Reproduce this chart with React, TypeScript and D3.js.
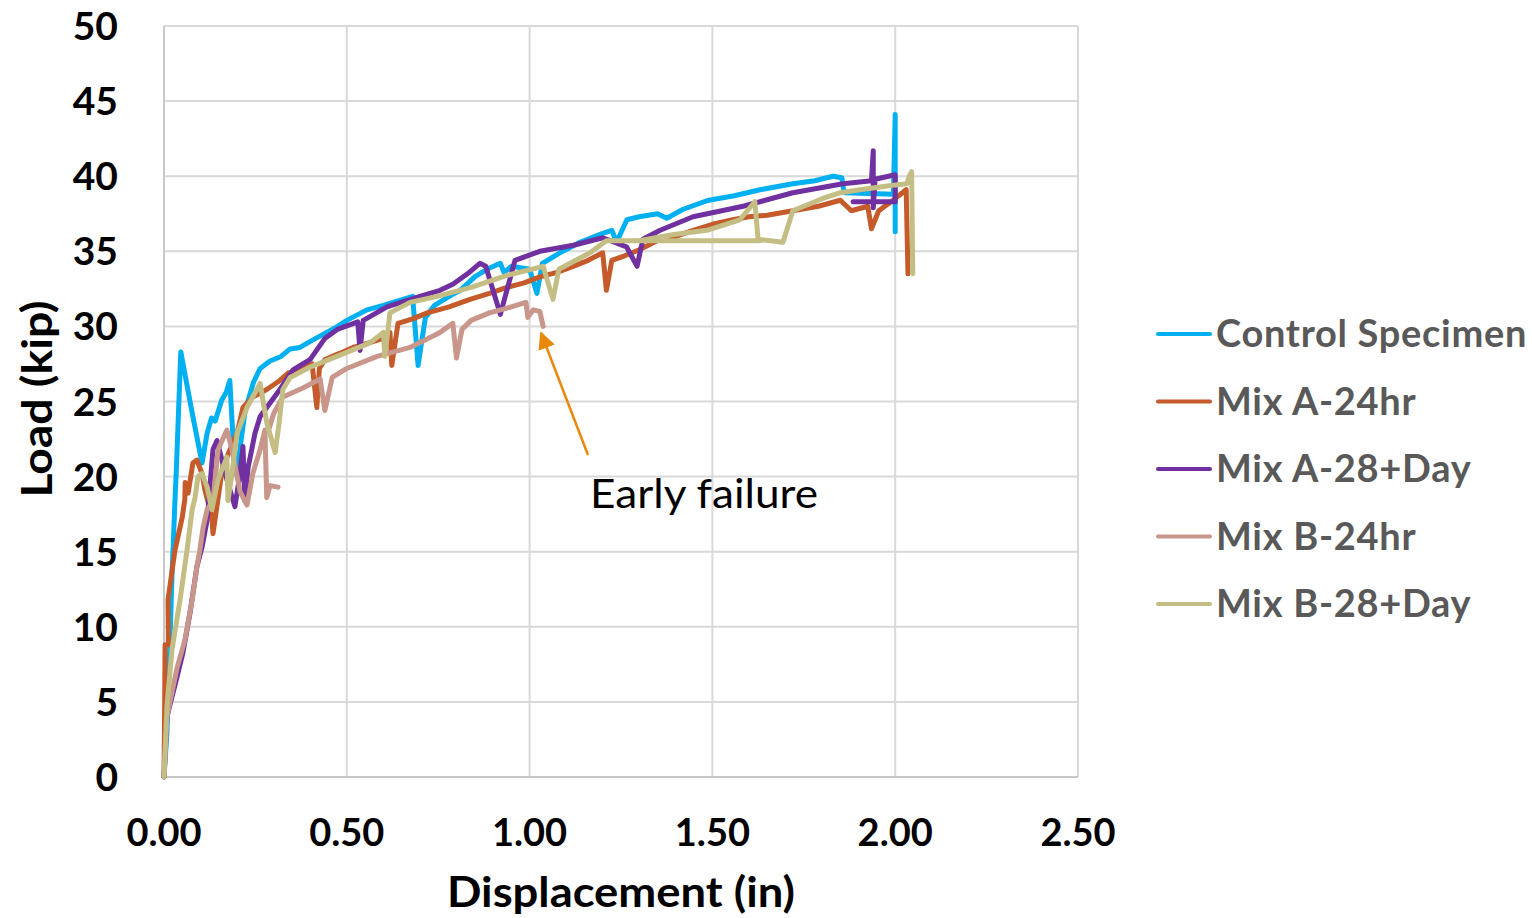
import { useEffect, useRef } from 'react'
import * as d3 from 'd3'

// displacement (in), load (kip)
const controlSpecimen: [number, number][] = [
  [0.000, 0.0], [0.008, 2.9], [0.015, 8.0], [0.022, 13.5], [0.030, 18.4], [0.034, 20.6],
  [0.040, 24.5], [0.046, 28.3], [0.075, 24.5], [0.104, 20.9], [0.118, 22.9], [0.130, 23.9],
  [0.140, 23.7], [0.158, 25.1], [0.170, 25.6], [0.180, 26.4], [0.194, 20.2], [0.203, 21.0],
  [0.222, 24.4], [0.245, 26.3], [0.263, 27.2], [0.290, 27.7], [0.320, 28.0], [0.345, 28.5],
  [0.372, 28.6], [0.400, 29.0], [0.445, 29.6], [0.475, 30.0], [0.500, 30.4], [0.555, 31.1],
  [0.600, 31.4], [0.640, 31.7], [0.680, 32.0], [0.695, 27.4], [0.715, 30.6], [0.740, 31.4],
  [0.780, 32.0], [0.810, 32.4], [0.850, 33.3], [0.883, 33.8], [0.920, 34.2], [0.930, 33.6],
  [0.950, 34.0], [1.000, 33.8], [1.020, 32.2], [1.035, 34.2], [1.083, 34.9], [1.138, 35.6],
  [1.200, 36.2], [1.225, 36.4], [1.238, 35.6], [1.266, 37.1], [1.300, 37.3], [1.350, 37.5],
  [1.375, 37.2], [1.420, 37.8], [1.490, 38.4], [1.560, 38.7], [1.630, 39.1], [1.720, 39.5],
  [1.780, 39.7], [1.830, 40.0], [1.854, 39.9], [1.860, 38.9], [1.995, 38.8], [2.000, 44.1],
  [2.000, 36.3],
]

const mixA24hr: [number, number][] = [
  [0.000, 0.0], [0.002, 5.5], [0.003, 8.8], [0.012, 8.8], [0.011, 11.8], [0.030, 15.1],
  [0.050, 17.3], [0.057, 18.5], [0.058, 19.6], [0.066, 18.9], [0.079, 20.9], [0.090, 21.1],
  [0.104, 20.2], [0.112, 19.1], [0.131, 17.3], [0.134, 16.2], [0.160, 20.6], [0.200, 22.9],
  [0.216, 24.6], [0.243, 25.3], [0.281, 25.8], [0.317, 26.4], [0.340, 26.9], [0.372, 27.1],
  [0.405, 27.5], [0.418, 24.6], [0.425, 27.2], [0.440, 27.8], [0.480, 28.2], [0.517, 28.6],
  [0.560, 28.9], [0.600, 29.2], [0.618, 29.6], [0.623, 27.4], [0.640, 30.2], [0.680, 30.5],
  [0.720, 30.9], [0.780, 31.3], [0.837, 31.8], [0.890, 32.2], [0.938, 32.6], [0.985, 32.9],
  [1.028, 33.3], [1.075, 33.6], [1.119, 34.0], [1.160, 34.4], [1.200, 34.9], [1.210, 32.4],
  [1.225, 34.4], [1.260, 34.7], [1.300, 35.1], [1.357, 35.8], [1.400, 36.0], [1.447, 36.4],
  [1.500, 36.8], [1.556, 37.1], [1.600, 37.3], [1.650, 37.4], [1.720, 37.7], [1.790, 38.0],
  [1.850, 38.4], [1.880, 37.7], [1.925, 38.0], [1.935, 36.5], [1.955, 37.7], [1.994, 38.4],
  [2.030, 39.1], [2.035, 33.5],
]

const mixA28Day: [number, number][] = [
  [0.000, 0.0], [0.008, 4.0], [0.036, 6.7], [0.052, 8.3], [0.071, 10.9], [0.090, 14.0],
  [0.104, 15.3], [0.118, 17.1], [0.134, 21.8], [0.145, 22.4], [0.172, 19.8], [0.194, 18.0],
  [0.208, 20.2], [0.216, 22.0], [0.221, 18.4], [0.230, 20.6], [0.249, 22.9], [0.263, 24.0],
  [0.290, 24.9], [0.317, 25.8], [0.353, 27.1], [0.400, 27.8], [0.440, 29.2], [0.474, 29.8],
  [0.530, 30.3], [0.536, 28.4], [0.545, 30.4], [0.610, 31.3], [0.700, 32.0], [0.755, 32.4],
  [0.790, 32.8], [0.830, 33.5], [0.864, 34.2], [0.880, 34.0], [0.920, 30.8], [0.960, 34.4],
  [1.028, 35.0], [1.120, 35.4], [1.200, 35.9], [1.265, 35.3], [1.294, 34.0], [1.310, 35.8],
  [1.357, 36.4], [1.447, 37.3], [1.584, 38.0], [1.720, 38.9], [1.857, 39.5], [1.935, 39.7],
  [1.940, 41.7], [1.940, 37.9], [1.945, 39.8], [2.000, 40.1], [2.000, 38.3], [1.885, 38.3],
]

// NaN marks a break in the trace
const mixB24hr: [number, number][] = [
  [0.000, 0.0], [0.008, 4.0], [0.036, 7.3], [0.057, 9.1], [0.077, 11.8], [0.090, 14.0],
  [0.098, 15.1], [0.107, 16.6], [0.118, 17.8], [0.134, 18.4], [0.148, 21.8], [0.172, 23.1],
  [0.186, 21.8], [0.208, 19.0], [0.227, 18.1], [0.243, 20.2], [0.263, 21.8], [0.276, 23.1],
  [0.281, 18.6], [0.290, 19.4], [0.312, 19.3], [NaN, NaN],
  [0.285, 23.0], [0.300, 24.2], [0.325, 25.3], [0.380, 25.9], [0.427, 26.5], [0.440, 24.4],
  [0.460, 26.6], [0.500, 27.2], [0.583, 28.0], [0.673, 28.6], [0.755, 29.6], [0.790, 30.2],
  [0.800, 27.9], [0.815, 29.8], [0.840, 30.4], [0.890, 30.9], [0.936, 31.2], [0.990, 31.6],
  [0.995, 30.6], [1.010, 31.1], [1.028, 31.0], [1.037, 30.0],
]

const mixB28Day: [number, number][] = [
  [0.000, 0.0], [0.008, 4.7], [0.022, 8.5], [0.044, 11.8], [0.063, 15.1], [0.077, 17.8],
  [0.085, 18.6], [0.093, 20.0], [0.104, 20.2], [0.118, 19.3], [0.131, 17.8], [0.148, 19.8],
  [0.172, 21.3], [0.175, 18.4], [0.186, 20.2], [0.200, 22.9], [0.227, 24.6], [0.263, 26.2],
  [0.281, 23.6], [0.304, 21.6], [0.315, 23.6], [0.325, 25.8], [0.345, 26.6], [0.400, 27.3],
  [0.473, 28.0], [0.563, 28.9], [0.600, 29.6], [0.604, 28.0], [0.618, 30.9], [0.673, 31.6],
  [0.747, 32.0], [0.840, 32.6], [0.938, 33.4], [1.037, 34.0], [1.064, 31.8], [1.080, 33.8],
  [1.165, 34.9], [1.210, 35.7], [1.630, 35.7], [1.215, 35.7], [1.300, 35.7], [1.390, 36.1],
  [1.485, 36.4], [1.575, 37.1], [1.616, 38.3], [1.625, 35.8], [1.693, 35.6], [1.720, 37.7],
  [1.800, 38.5], [1.850, 38.9], [1.903, 39.1], [1.994, 39.4], [2.032, 39.5], [2.040, 40.1],
  [2.045, 40.3], [2.048, 33.5],
]

const seriesNames = ['Control Specimen', 'Mix A-24hr', 'Mix A-28+Day', 'Mix B-24hr', 'Mix B-28+Day']
const seriesData = [controlSpecimen, mixA24hr, mixA28Day, mixB24hr, mixB28Day]
const seriesColors = ['#00B0F0', '#C55A2B', '#7030A0', '#C8968A', '#C4BD84']

const xTicks = [0, 0.5, 1, 1.5, 2, 2.5]
const yTicks = [0, 5, 10, 15, 20, 25, 30, 35, 40, 45, 50]

export default function App() {
  const svgRef = useRef<SVGSVGElement>(null)

  useEffect(() => {
    const width = 1532, height = 918
    const svg = d3.select(svgRef.current)
    svg.selectAll('*').remove()
    svg.attr('width', width).attr('height', height)

    const plot = { left: 164, right: 1078, top: 26, bottom: 777 }
    const x = d3.scaleLinear().domain([0, 2.5]).range([plot.left, plot.right])
    const y = d3.scaleLinear().domain([0, 50]).range([plot.bottom, plot.top])

    // grid
    svg.append('g').selectAll('line').data(yTicks).enter().append('line')
      .attr('x1', plot.left).attr('x2', plot.right)
      .attr('y1', d => y(d)).attr('y2', d => y(d))
      .attr('stroke', '#d9d9d9').attr('stroke-width', 2)
    svg.append('g').selectAll('line').data(xTicks).enter().append('line')
      .attr('x1', d => x(d)).attr('x2', d => x(d))
      .attr('y1', plot.top).attr('y2', plot.bottom)
      .attr('stroke', '#d9d9d9').attr('stroke-width', 2)

    // axis lines
    svg.append('line')
      .attr('x1', plot.left).attr('x2', plot.left).attr('y1', plot.top).attr('y2', plot.bottom)
      .attr('stroke', '#c8c8c8').attr('stroke-width', 2)
    svg.append('line')
      .attr('x1', plot.left).attr('x2', plot.right).attr('y1', plot.bottom).attr('y2', plot.bottom)
      .attr('stroke', '#c8c8c8').attr('stroke-width', 2)

    // tick labels
    svg.append('g').selectAll('text').data(yTicks).enter().append('text')
      .text(d => String(d))
      .attr('x', 118).attr('y', d => y(d) + 14)
      .attr('text-anchor', 'end')
      .attr('font-family', 'Lato, sans-serif').attr('font-weight', 700)
      .attr('font-size', '39px').attr('fill', '#000')
    svg.append('g').selectAll('text').data(xTicks).enter().append('text')
      .text(d => d3.format('.2f')(d))
      .attr('x', d => x(d)).attr('y', 846)
      .attr('text-anchor', 'middle')
      .attr('font-family', 'Lato, sans-serif').attr('font-weight', 700)
      .attr('font-size', '38px').attr('fill', '#000')

    // axis titles
    svg.append('text')
      .text('Displacement (in)')
      .attr('x', 621).attr('y', 907)
      .attr('text-anchor', 'middle')
      .attr('textLength', 348).attr('lengthAdjust', 'spacingAndGlyphs')
      .attr('font-family', 'Lato, sans-serif').attr('font-weight', 700)
      .attr('font-size', '42px').attr('fill', '#000')
    svg.append('text')
      .text('Load (kip)')
      .attr('transform', 'translate(52, 399) rotate(-90)')
      .attr('text-anchor', 'middle')
      .attr('textLength', 197).attr('lengthAdjust', 'spacingAndGlyphs')
      .attr('font-family', 'Lato, sans-serif').attr('font-weight', 700)
      .attr('font-size', '42px').attr('fill', '#000')

    // series
    const line = d3.line<[number, number]>()
      .defined(d => !isNaN(d[0]))
      .x(d => x(d[0]))
      .y(d => y(d[1]))

    seriesData.forEach((data, i) => {
      svg.append('path')
        .datum(data)
        .attr('d', line)
        .attr('fill', 'none')
        .attr('stroke', seriesColors[i])
        .attr('stroke-width', 5)
        .attr('stroke-linejoin', 'round')
        .attr('stroke-linecap', 'round')
    })

    // annotation
    svg.append('defs').append('marker')
      .attr('id', 'arrowhead')
      .attr('viewBox', '0 0 10 10')
      .attr('refX', 9).attr('refY', 5)
      .attr('markerWidth', 7).attr('markerHeight', 7)
      .attr('orient', 'auto')
      .append('path')
      .attr('d', 'M0,0 L10,5 L0,10 Z')
      .attr('fill', '#E8890C')
    svg.append('line')
      .attr('x1', 588).attr('y1', 455)
      .attr('x2', 541).attr('y2', 333)
      .attr('stroke', '#E8890C').attr('stroke-width', 2.5)
      .attr('marker-end', 'url(#arrowhead)')
    svg.append('text')
      .text('Early failure')
      .attr('x', 590).attr('y', 508)
      .attr('textLength', 228).attr('lengthAdjust', 'spacingAndGlyphs')
      .attr('font-family', 'Lato, sans-serif')
      .attr('font-size', '40px').attr('fill', '#000')

    // legend
    const legend = svg.append('g')
    seriesNames.forEach((name, i) => {
      const ly = 334 + i * 67.5
      legend.append('line')
        .attr('x1', 1158).attr('x2', 1210)
        .attr('y1', ly).attr('y2', ly)
        .attr('stroke', seriesColors[i]).attr('stroke-width', 4)
        .attr('stroke-linecap', 'round')
      legend.append('text')
        .text(name)
        .attr('x', 1216).attr('y', ly + 13)
        .attr('font-family', 'Lato, sans-serif').attr('font-weight', 700)
        .attr('font-size', '38px').attr('letter-spacing', '0.7px')
        .attr('fill', '#595959')
    })
  }, [])

  return (
    <div style={{ position: 'absolute', left: 0, top: 0 }}>
      <svg ref={svgRef} style={{ display: 'block' }} />
    </div>
  )
}
